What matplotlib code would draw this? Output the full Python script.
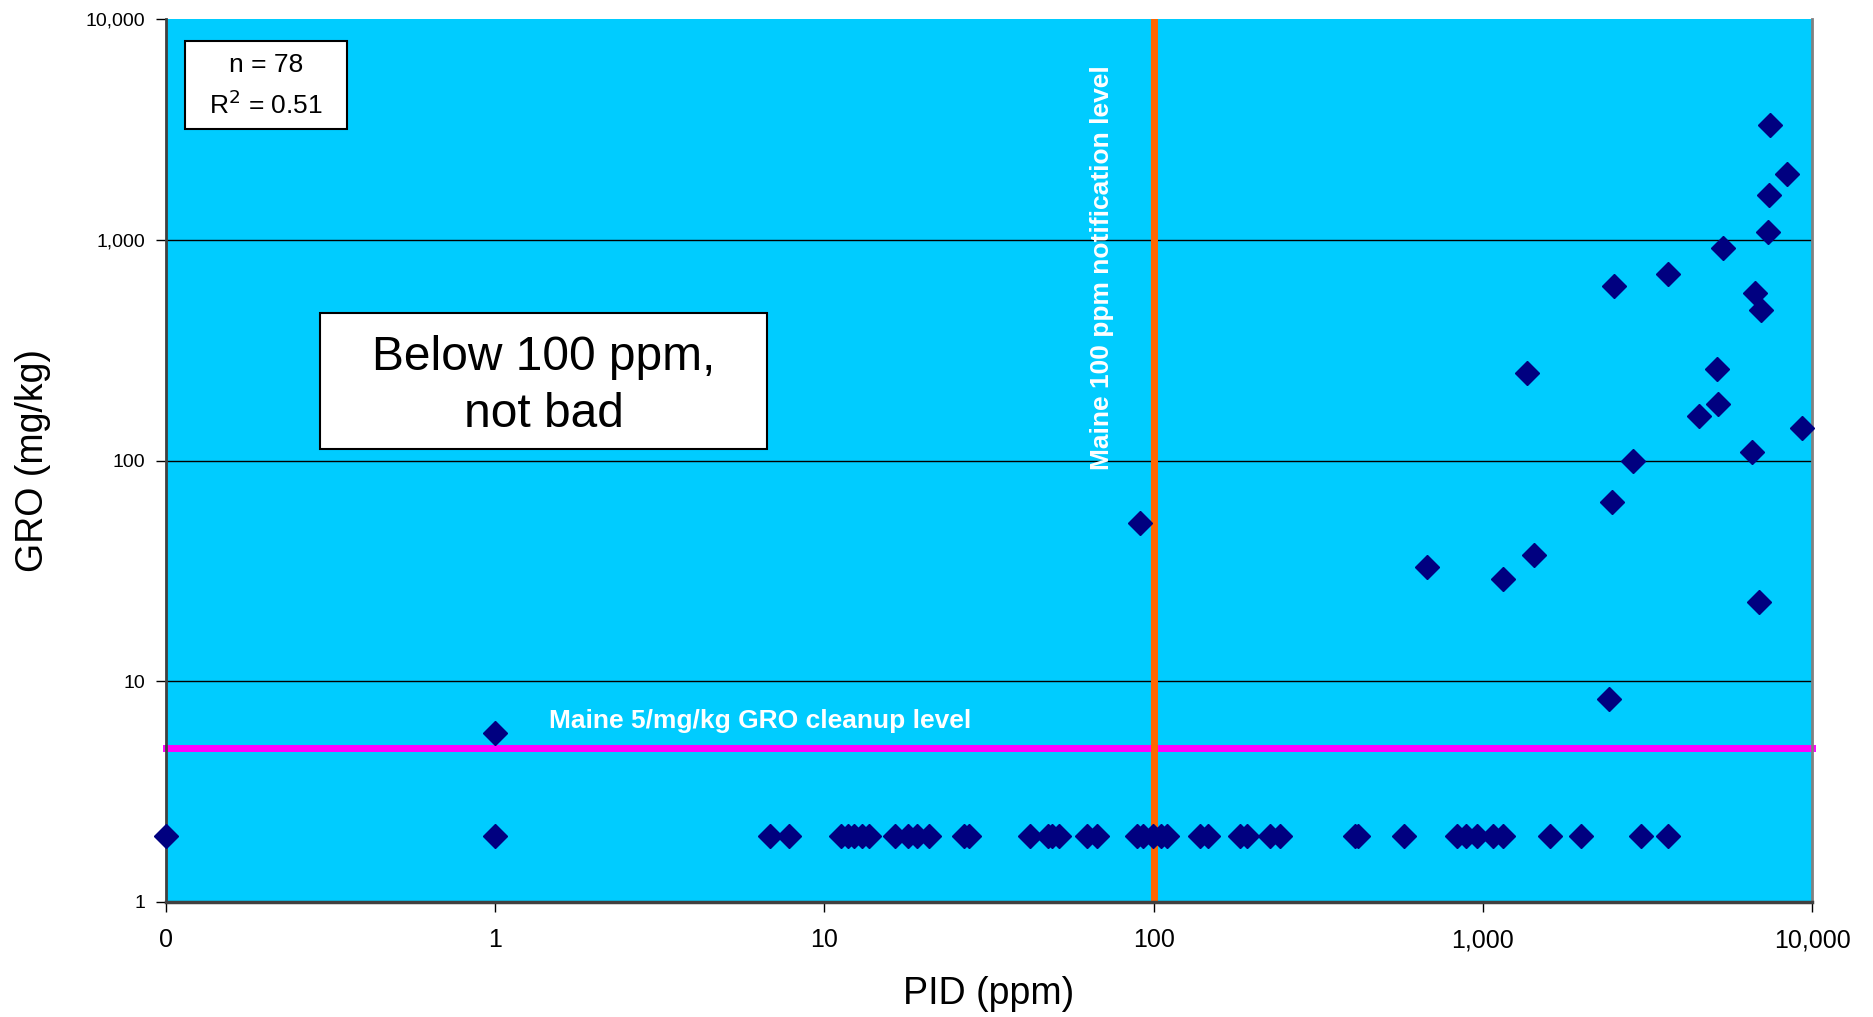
import matplotlib
matplotlib.use("Agg")
import matplotlib.pyplot as plt
from matplotlib.ticker import FixedLocator, FixedFormatter, NullLocator
from matplotlib.patches import Rectangle

plt.rcParams['font.family'] = ['Liberation Sans', 'DejaVu Sans']

# PID (ppm) values of samples plotted at the non-detect level (GRO = 2)
pid_low = [0.1, 1.0, 6.82, 7.79, 11.2, 11.8, 12.3, 13.0, 13.7, 16.4, 17.9, 19.1, 20.8,
           26.6, 27.5, 42.2, 47.9, 49.2, 51.7, 62.9, 67.5, 89.2, 93.0, 99.8, 105.5,
           110.1, 138.7, 146.6, 183.4, 192.6, 226.3, 242.7, 410, 419, 578, 837, 892,
           963, 1077, 1148, 1604, 1994, 3034, 3664]
gro_low = [2] * len(pid_low)

# Samples with detected GRO
pid_det = [1.0, 91.2, 679, 1153, 1364, 1428, 2425, 2464, 2506, 2850, 3640, 4540,
           5140, 5188, 5357, 6580, 6699, 6925, 6980, 7328, 7392, 7464, 8370, 9336]
gro_det = [5.84, 51.9, 32.9, 29.0, 248, 37.2, 8.28, 65, 616, 99.7, 699, 159,
           260, 180, 916, 109.5, 575, 22.9, 482, 1086, 1592, 3296, 1987, 141]

x_ticks = [0.1, 1, 10, 100, 1000, 10000]
x_tick_labels = ["0", "1", "10", "100", "1,000", "10,000"]
y_ticks = [1, 10, 100, 1000, 10000]
y_tick_labels = ["1", "10", "100", "1,000", "10,000"]

pid_limit = 100
gro_limit = 5

fig = plt.figure(figsize=(18.74, 10.17), dpi=100)
ax = fig.add_axes([166/1874, 115/1017, 1646/1874, 883/1017])
ax.set_facecolor('#00CCFF')
ax.set_xscale('log')
ax.set_yscale('log')
ax.set_xlim(0.1, 10000)
ax.set_ylim(1, 10000)

for yv in [10, 100, 1000]:
    ax.axhline(yv, color='black', lw=1.0, zorder=1)

ax.axhline(gro_limit, color='#FF00FF', lw=5, zorder=2, clip_on=False)
ax.axvline(pid_limit, color='#FF6600', lw=5, zorder=2)

ax.plot(pid_low + pid_det, gro_low + gro_det, linestyle='none', marker='D',
        ms=12.7, color='#000080', mec='#000080', zorder=5, clip_on=False)

ax.xaxis.set_major_locator(FixedLocator(x_ticks))
ax.xaxis.set_major_formatter(FixedFormatter(x_tick_labels))
ax.xaxis.set_minor_locator(NullLocator())
ax.yaxis.set_major_locator(FixedLocator(y_ticks))
ax.yaxis.set_major_formatter(FixedFormatter(y_tick_labels))
ax.yaxis.set_minor_locator(NullLocator())
ax.tick_params(axis='both', direction='out', length=7, width=1, color='black',
               labelcolor='black')
ax.tick_params(axis='x', pad=12, labelsize=18)
ax.tick_params(axis='y', pad=8, labelsize=14)

ax.spines['top'].set_visible(False)
ax.spines['left'].set_color('#404040')
ax.spines['left'].set_linewidth(2)
ax.spines['bottom'].set_color('#404040')
ax.spines['bottom'].set_linewidth(2.5)
ax.spines['right'].set_color('#808080')
ax.spines['right'].set_linewidth(2)

ax.set_xlabel('PID (ppm)', fontsize=27, labelpad=17)
ax.set_ylabel('GRO (mg/kg)', fontsize=27, labelpad=25)

ax.text(1.46, 6.6, 'Maine 5/mg/kg GRO cleanup level', color='white',
        fontsize=19, fontweight='bold', ha='left', va='center', zorder=6)
ax.text(69.8, 6200, 'Maine 100 ppm notification level', color='white',
        fontsize=19, fontweight='bold', ha='center', va='top', rotation=90, zorder=6)

# stats box
ax.add_patch(Rectangle(((185-166)/1646, (902-129)/883), 162/1646, 88/883,
                       transform=ax.transAxes, facecolor='white', edgecolor='black',
                       lw=1.5, zorder=7))
ax.text((266-166)/1646, (902-65)/883, 'n = 78', transform=ax.transAxes,
        ha='center', va='center', fontsize=19, zorder=8)
ax.text((266-166)/1646, (902-105)/883, r'R$^{2}$ = 0.51', transform=ax.transAxes,
        ha='center', va='center', fontsize=19, zorder=8)

# comment box
ax.add_patch(Rectangle(((320-166)/1646, (902-449)/883), 447/1646, 136/883,
                       transform=ax.transAxes, facecolor='white', edgecolor='black',
                       lw=1.5, zorder=7))
ax.text((543.5-166)/1646, (902-386)/883, 'Below 100 ppm,\nnot bad', transform=ax.transAxes,
        ha='center', va='center', fontsize=34.5, linespacing=1.36, zorder=8)

fig.savefig('out.png', dpi=100)
